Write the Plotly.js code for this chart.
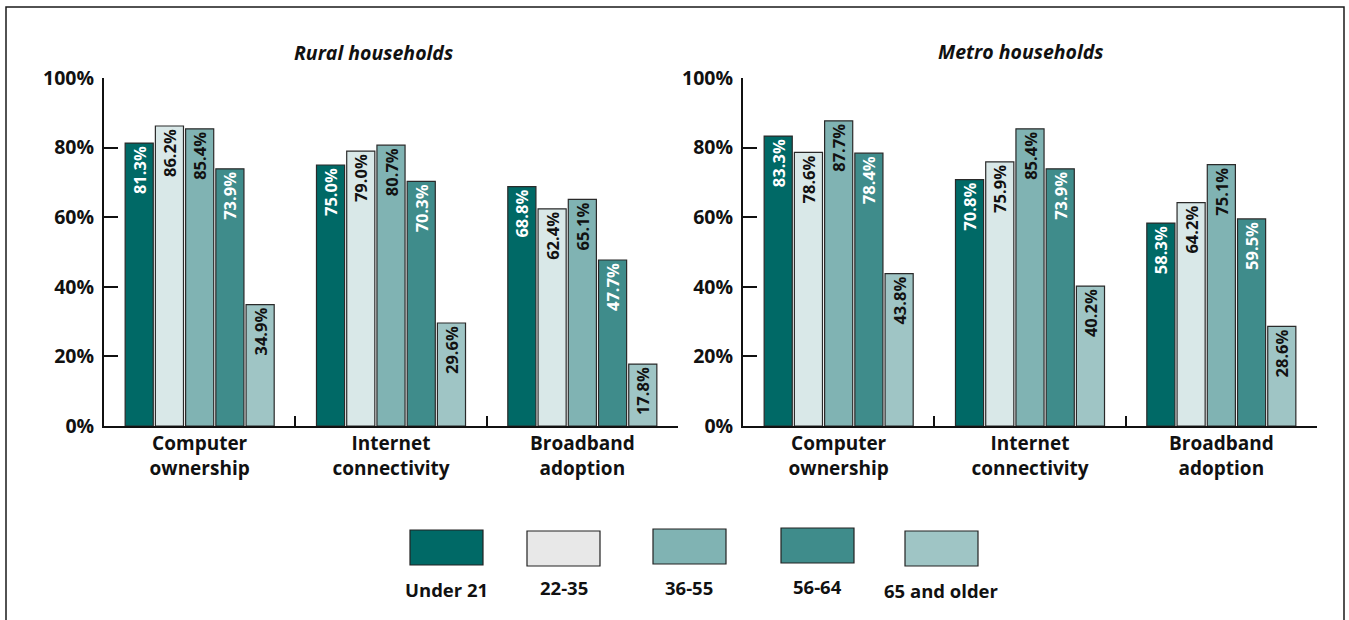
<!DOCTYPE html>
<html>
<head>
<meta charset="utf-8">
<script src="https://cdn.plot.ly/plotly-3.0.1.min.js"></script>
<style>
html,body{margin:0;padding:0;background:#fff;}
#chart{width:1349px;height:620px;}
</style>
</head>
<body>
<div id="chart"></div>
<script>
const categories = ["Computer<br>ownership", "Internet<br>connectivity", "Broadband<br>adoption"];
const ageGroups = ["Under 21", "22-35", "36-55", "56-64", "65 and older"];
const panelTitles = ["Rural households", "Metro households"];

const ruralUnder21 = [81.3, 75.0, 68.8];
const rural22_35   = [86.2, 79.0, 62.4];
const rural36_55   = [85.4, 80.7, 65.1];
const rural56_64   = [73.9, 70.3, 47.7];
const rural65plus  = [34.9, 29.6, 17.8];

const metroUnder21 = [83.3, 70.8, 58.3];
const metro22_35   = [78.6, 75.9, 64.2];
const metro36_55   = [87.7, 85.4, 75.1];
const metro56_64   = [78.4, 73.9, 59.5];
const metro65plus  = [43.8, 40.2, 28.6];

const yTickVals = [0, 20, 40, 60, 80, 100];
const yTickText = yTickVals.map(v => v + "%");

const ruralSeries = [ruralUnder21, rural22_35, rural36_55, rural56_64, rural65plus];
const metroSeries = [metroUnder21, metro22_35, metro36_55, metro56_64, metro65plus];

const barColors = ["#006966", "#d9e8e8", "#80b3b3", "#3f8c8b", "#9fc5c5"];
const legendColors = ["#006966", "#e8e8e8", "#80b3b3", "#3f8c8b", "#9fc5c5"];
const textColors = ["#ffffff", "#111111", "#111111", "#ffffff", "#111111"];

const FONT = "'Open Sans', 'Noto Sans', sans-serif";
const W = 1349, H = 620;
const px = v => v / W;
const py = v => 1 - v / H;

const traces = [];
function addPanel(series, xa, ya) {
  series.forEach((vals, i) => {
    traces.push({
      type: "bar",
      x: categories,
      y: vals,
      name: ageGroups[i],
      xaxis: xa, yaxis: ya,
      marker: {color: barColors[i], line: {color: "#2a2a2a", width: 1.2}},
      texttemplate: "%{y:.1f}%",
      textposition: "inside",
      insidetextanchor: "end",
      textangle: -90,
      insidetextfont: {family: FONT, size: 16.5, color: textColors[i], weight: 700},
      constraintext: "none",
      cliponaxis: false,
      showlegend: false,
      hoverinfo: "x+y+name"
    });
  });
}
addPanel(ruralSeries, "x", "y");
addPanel(metroSeries, "x2", "y2");

const yDom = [py(426), py(78)];
function yAxis(anchor) {
  return {
    anchor: anchor, domain: yDom, range: [0, 100],
    tickmode: "array", tickvals: yTickVals, ticktext: yTickText,
    ticks: "inside", ticklen: 14, tickwidth: 2, tickcolor: "#111",
    showline: true, linewidth: 2, linecolor: "#111",
    showgrid: false, zeroline: false,
    ticklabelstandoff: 4,
    tickfont: {family: FONT, size: 19.5, color: "#111", weight: 700},
    fixedrange: true
  };
}
function xAxis(anchor, d) {
  return {
    anchor: anchor, domain: d,
    ticks: "inside", tickson: "boundaries", ticklen: 10, tickwidth: 2, tickcolor: "#111",
    showline: true, linewidth: 2, linecolor: "#111",
    showgrid: false, zeroline: false,
    ticklabelstandoff: -1,
    tickfont: {family: FONT, size: 19, color: "#111", weight: 700},
    fixedrange: true
  };
}

const shapes = [{
  type: "rect", xref: "paper", yref: "paper",
  x0: px(6), x1: px(1344), y0: py(660), y1: py(7),
  line: {color: "#1a1a1a", width: 1.5}, fillcolor: "rgba(0,0,0,0)"
}];
const annotations = [
  {text: "<i>" + panelTitles[0] + "</i>", x: px(373), y: py(53), xref: "paper", yref: "paper",
   showarrow: false, xanchor: "center", yanchor: "middle",
   font: {family: FONT, size: 19.5, color: "#111", weight: 700}},
  {text: "<i>" + panelTitles[1] + "</i>", x: px(1021), y: py(52), xref: "paper", yref: "paper",
   showarrow: false, xanchor: "center", yanchor: "middle",
   font: {family: FONT, size: 19.5, color: "#111", weight: 700}}
];

const legendBoxLeft = [410, 527, 653, 781, 905];
const legendBoxTop = [530, 531, 529, 528, 531];
const legendLabelY = [589, 587, 587, 586, 590];
ageGroups.forEach((g, i) => {
  const x0 = legendBoxLeft[i], y0 = legendBoxTop[i];
  shapes.push({
    type: "rect", xref: "paper", yref: "paper",
    x0: px(x0), x1: px(x0 + 73), y0: py(y0 + 35), y1: py(y0),
    fillcolor: legendColors[i], line: {color: "#222", width: 1.2}
  });
  annotations.push({
    text: g, x: px(x0 + 36.5), y: py(legendLabelY[i]), xref: "paper", yref: "paper",
    showarrow: false, xanchor: "center", yanchor: "middle",
    font: {family: FONT, size: 18.5, color: "#111", weight: 700}
  });
});

const layout = {
  width: W, height: H,
  margin: {l: 0, r: 0, t: 0, b: 0},
  paper_bgcolor: "#ffffff", plot_bgcolor: "rgba(0,0,0,0)",
  barmode: "group", bargap: 0.21, bargroupgap: 0.07,
  showlegend: false,
  xaxis: xAxis("y", [px(104), px(678)]),
  yaxis: yAxis("x"),
  xaxis2: xAxis("y2", [px(743), px(1317)]),
  yaxis2: yAxis("x2"),
  shapes: shapes,
  annotations: annotations,
  font: {family: FONT}
};

Plotly.newPlot("chart", traces, layout, {displayModeBar: false, staticPlot: true});
</script>
</body>
</html>
